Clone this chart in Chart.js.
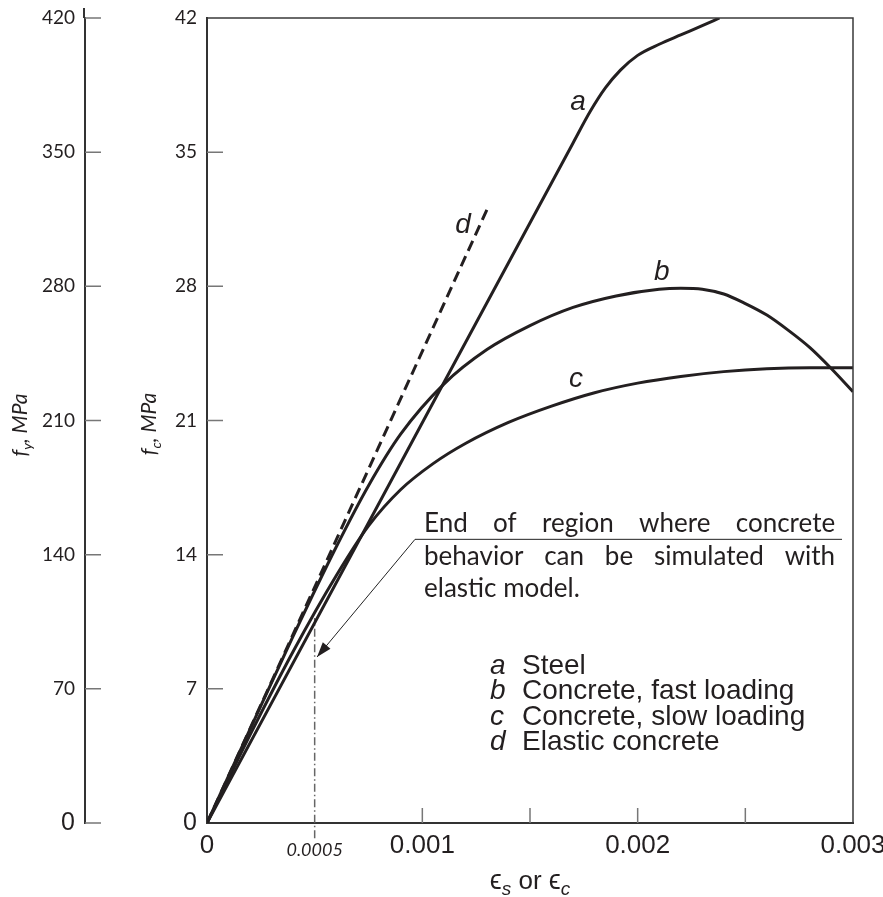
<!DOCTYPE html>
<html>
<head>
<meta charset="utf-8">
<script src="https://cdn.jsdelivr.net/npm/chart.js@4.4.1/dist/chart.umd.min.js"></script>
<style>
  html, body { margin: 0; padding: 0; background: #fff; }
  #wrap { width: 883px; height: 897px; }
</style>
</head>
<body>
<div id="wrap"><canvas id="chart" width="883" height="897"></canvas></div>
<script>
// values (strain, stress)
const steelStrain = [0, 0.0009, 0.0017, 0.00178, 0.00185, 0.00192, 0.002, 0.0021, 0.0022, 0.0023, 0.00238];
const steelStress = [0, 188, 354.8, 371.3, 383.5, 392.8, 400.5, 406.3, 411.2, 416, 420]; // fy, MPa

const fastStrain = [0, 0.0002, 0.0004, 0.0006, 0.00075, 0.0009, 0.0011, 0.0013, 0.0015, 0.0017, 0.0019, 0.0021, 0.0022, 0.0023, 0.0024, 0.0025, 0.0026, 0.0027, 0.0028, 0.0029, 0.003];
const fastStress = [0, 4.9, 9.75, 14.4, 17.6, 20.3, 22.9, 24.7, 25.95, 26.9, 27.5, 27.85, 27.9, 27.85, 27.6, 27.1, 26.5, 25.7, 24.8, 23.7, 22.5];

const slowStrain = [0, 0.0002, 0.0004, 0.0006, 0.00075, 0.0009, 0.00105, 0.0012, 0.0014, 0.0016, 0.0018, 0.002, 0.0022, 0.0024, 0.0026, 0.0028, 0.003];
const slowStress = [0, 4.6, 8.95, 12.9, 15.5, 17.4, 18.75, 19.8, 20.9, 21.75, 22.45, 22.95, 23.3, 23.55, 23.7, 23.75, 23.75];

const elasticStrain = [0, 0.0013];
const elasticStress = [0, 32];

// vertical marker at 0.0005 (dash-dot)
const markerStrain = [0.0005, 0.0005];
const markerStress = [-0.8, 10.7];

const xTicks = [0, 0.0005, 0.001, 0.0015, 0.002, 0.0025, 0.003];
const xTickLabels = ['0', '', '0.001', '', '0.002', '', '0.003'];
const fcTicks = [0, 7, 14, 21, 28, 35, 42];
const fyTicks = [0, 70, 140, 210, 280, 350, 420];

const legendKeys = ['a', 'b', 'c', 'd'];
const legendNames = ['Steel', 'Concrete, fast loading', 'Concrete, slow loading', 'Elastic concrete'];
const noteLines = [
  ['End', 'of', 'region', 'where', 'concrete'],
  ['behavior', 'can', 'be', 'simulated', 'with'],
  ['elastic model.']
];

const ink = '#231f20';
const helv = '"Liberation Sans", Arial, Helvetica, sans-serif';
const cal = 'Lato, "Open Sans", sans-serif';

const pts = (xs, ys) => xs.map((x, i) => ({ x, y: ys[i] }));

// curve tags a-d, placed in data units
const curveTags = [
  { t: 'a', x: 0.001723, y: 37.2 },
  { t: 'd', x: 0.001189, y: 30.78 },
  { t: 'b', x: 0.002112, y: 28.33 },
  { t: 'c', x: 0.001714, y: 22.75 }
];

function justify(ctx, words, x0, x1, y) {
  if (words.length === 1) { ctx.fillText(words[0], x0, y); return; }
  const w = words.map(s => ctx.measureText(s).width);
  const gap = (x1 - x0 - w.reduce((a, b) => a + b, 0)) / (words.length - 1);
  let x = x0;
  words.forEach((s, i) => { ctx.fillText(s, x, y); x += w[i] + gap; });
}

// draws a run of [text, font, dy] pieces starting at x
function runs(ctx, parts, x, y) {
  parts.forEach(([txt, font, dy]) => {
    ctx.font = font;
    ctx.fillText(txt, x, y + dy);
    x += ctx.measureText(txt).width;
  });
}
function runsWidth(ctx, parts) {
  return parts.reduce((s, [txt, font]) => { ctx.font = font; return s + ctx.measureText(txt).width; }, 0);
}

const decor = {
  id: 'decor',
  afterDatasetsDraw(chart) {
    const { ctx, chartArea: ca, scales } = chart;
    const x = scales.x, y = scales.y, yf = scales.yFy;
    ctx.save();

    // top and right frame
    ctx.strokeStyle = '#3a3a3a';
    ctx.lineWidth = 1.5;
    ctx.beginPath();
    ctx.moveTo(ca.left, ca.top);
    ctx.lineTo(ca.right, ca.top);
    ctx.lineTo(ca.right, ca.bottom);
    ctx.stroke();

    // fy axis runs a bit above the frame
    ctx.strokeStyle = '#333';
    ctx.lineWidth = 2;
    ctx.beginPath();
    ctx.moveTo(yf.right - 1, ca.top - 10);
    ctx.lineTo(yf.right - 1, ca.top);
    ctx.stroke();

    // inward tick marks
    ctx.strokeStyle = '#777';
    ctx.lineWidth = 1.5;
    ctx.beginPath();
    fyTicks.forEach(v => {
      const p = yf.getPixelForValue(v);
      ctx.moveTo(yf.right, p); ctx.lineTo(yf.right + 16, p);
    });
    fcTicks.slice(1, -1).forEach(v => {
      const p = y.getPixelForValue(v);
      ctx.moveTo(ca.left, p); ctx.lineTo(ca.left + 16, p);
    });
    xTicks.filter(v => v > 0.0007 && v < 0.0029).forEach(v => {
      const p = x.getPixelForValue(v);
      ctx.moveTo(p, ca.bottom); ctx.lineTo(p, ca.bottom - 15);
    });
    ctx.stroke();

    ctx.fillStyle = ink;

    // curve tags
    ctx.font = 'italic 28px ' + helv;
    ctx.textAlign = 'center';
    ctx.textBaseline = 'alphabetic';
    curveTags.forEach(c => ctx.fillText(c.t, x.getPixelForValue(c.x), y.getPixelForValue(c.y)));

    // 0.0005 label
    ctx.font = 'italic 18px ' + cal;
    ctx.fillText('0.0005', x.getPixelForValue(0.0005), ca.bottom + 33);

    // legend
    ctx.textAlign = 'left';
    legendKeys.forEach((k, i) => {
      const by = 674 + i * 25.3;
      ctx.font = 'italic 28px ' + helv;
      ctx.fillText(k, 490, by);
      ctx.font = '28px ' + helv;
      ctx.fillText(legendNames[i], 522, by);
    });

    // note text
    ctx.font = '26px ' + cal;
    const nx0 = x.getPixelForValue(0.001008), nx1 = x.getPixelForValue(0.002917);
    noteLines.forEach((ws, i) => justify(ctx, ws, nx0, nx1, 532 + i * 32.5));

    // leader: underline, diagonal, arrowhead
    const sx = x.getPixelForValue(0.000966), sy = y.getPixelForValue(14.8);
    const tx = x.getPixelForValue(0.000511), ty = y.getPixelForValue(8.66);
    ctx.strokeStyle = '#222';
    ctx.lineWidth = 1;
    ctx.beginPath();
    ctx.moveTo(x.getPixelForValue(0.002949), sy);
    ctx.lineTo(sx, sy);
    ctx.lineTo(tx, ty);
    ctx.stroke();
    const ang = Math.atan2(ty - sy, tx - sx);
    ctx.beginPath();
    ctx.moveTo(tx, ty);
    ctx.lineTo(tx - 15 * Math.cos(ang) + 5 * Math.sin(ang), ty - 15 * Math.sin(ang) - 5 * Math.cos(ang));
    ctx.lineTo(tx - 15 * Math.cos(ang) - 5 * Math.sin(ang), ty - 15 * Math.sin(ang) + 5 * Math.cos(ang));
    ctx.closePath();
    ctx.fill();

    // x axis title
    ctx.textBaseline = 'alphabetic';
    const xt = [
      ['\u03F5', '27px ' + helv, 0],
      ['s', 'italic 19px ' + helv, 6],
      [' or ', '26px ' + helv, 0],
      ['\u03F5', '27px ' + helv, 0],
      ['c', 'italic 19px ' + helv, 6]
    ];
    const xw = runsWidth(ctx, xt);
    runs(ctx, xt, (ca.left + ca.right) / 2 - xw / 2, 889, 0);

    // rotated y titles
    const yTitle = (sub, bx, cy) => {
      const parts = [
        ['f', 'italic 21px ' + cal, 0],
        [sub, 'italic 14px ' + cal, 5],
        [', MPa', 'italic 21px ' + cal, 0]
      ];
      const w = runsWidth(ctx, parts);
      ctx.save();
      ctx.translate(bx, cy);
      ctx.rotate(-Math.PI / 2);
      runs(ctx, parts, -w / 2, 0, 0);
      ctx.restore();
    };
    yTitle('y', 27, 425);
    yTitle('c', 156, 424);

    ctx.restore();
  }
};

const lineStyle = { borderColor: ink, borderWidth: 3, pointRadius: 0, pointHoverRadius: 0, fill: false };

new Chart(document.getElementById('chart'), {
  type: 'line',
  data: {
    datasets: [
      { ...lineStyle, label: 'a', data: pts(steelStrain, steelStress), yAxisID: 'yFy', cubicInterpolationMode: 'monotone' },
      { ...lineStyle, label: 'b', data: pts(fastStrain, fastStress), yAxisID: 'y', cubicInterpolationMode: 'monotone' },
      { ...lineStyle, label: 'c', data: pts(slowStrain, slowStress), yAxisID: 'y', cubicInterpolationMode: 'monotone' },
      { ...lineStyle, label: 'd', data: pts(elasticStrain, elasticStress), yAxisID: 'y', borderDash: [11, 6], tension: 0 },
      { label: 'marker', data: pts(markerStrain, markerStress), yAxisID: 'y', borderColor: '#666', borderWidth: 1.5,
        borderDash: [8, 3, 1.5, 3], pointRadius: 0, tension: 0, clip: false }
    ]
  },
  options: {
    responsive: false,
    animation: false,
    events: [],
    layout: { padding: { top: 18, right: 30, bottom: 0, left: 0 } },
    plugins: { legend: { display: false }, tooltip: { enabled: false } },
    scales: {
      x: {
        type: 'linear',
        min: 0, max: 0.003,
        afterBuildTicks: s => { s.ticks = xTicks.map(v => ({ value: v })); },
        afterFit: s => { s.height = 74; s.paddingLeft = 0; s.paddingRight = 0; },
        grid: { drawOnChartArea: false, drawTicks: false },
        border: { display: true, color: '#333', width: 2 },
        ticks: {
          autoSkip: false, maxRotation: 0, padding: 7, color: ink,
          font: { family: helv, size: 26 },
          callback: (v, i) => xTickLabels[i]
        }
      },
      y: {
        type: 'linear', position: 'left', weight: 0,
        min: 0, max: 42,
        afterBuildTicks: s => { s.ticks = fcTicks.map(v => ({ value: v })); },
        afterFit: s => { s.width = 122; s.paddingTop = 0; s.paddingBottom = 0; },
        grid: { drawOnChartArea: false, drawTicks: false },
        border: { display: true, color: '#333', width: 2 },
        ticks: {
          padding: 10, color: ink,
          font: c => (c.tick && c.tick.value === 0) ? { family: helv, size: 25 } : { family: cal, size: 19 },
          callback: v => String(v)
        }
      },
      yFy: {
        type: 'linear', position: 'left', weight: 1,
        min: 0, max: 420,
        afterBuildTicks: s => { s.ticks = fyTicks.map(v => ({ value: v })); },
        afterFit: s => { s.width = 85; s.paddingTop = 0; s.paddingBottom = 0; },
        grid: { drawOnChartArea: false, drawTicks: false },
        border: { display: true, color: '#333', width: 2 },
        ticks: {
          padding: 10, color: ink,
          font: c => (c.tick && c.tick.value === 0) ? { family: helv, size: 25 } : { family: cal, size: 19 },
          callback: v => String(v)
        }
      }
    }
  },
  plugins: [decor]
});
</script>
</body>
</html>
